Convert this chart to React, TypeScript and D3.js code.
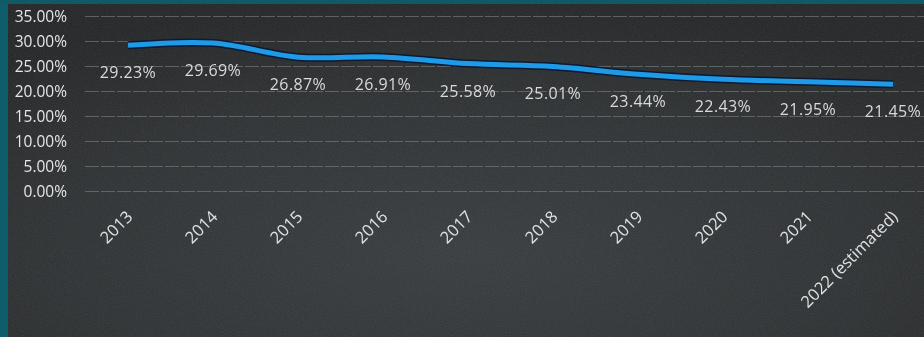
import React from "react";
import * as d3 from "d3";

const categories = ["2013", "2014", "2015", "2016", "2017", "2018", "2019", "2020", "2021", "2022 (estimated)"];
const values = [29.23, 29.69, 26.87, 26.91, 25.58, 25.01, 23.44, 22.43, 21.95, 21.45];
const yTicks = [0, 5, 10, 15, 20, 25, 30, 35];

const W = 924;
const H = 337;

export default function App() {
  const x = d3.scalePoint<string>().domain(categories).range([128, 893]);
  const y = d3.scaleLinear().domain([0, 35]).range([191.5, 16.5]);
  const line = d3
    .line<number>()
    .x((_, i) => x(categories[i]) as number)
    .y((d) => y(d))
    .curve(d3.curveCatmullRom.alpha(0.5));
  const path = line(values) || "";
  const fmt = (v: number) => `${v.toFixed(2)}%`;

  return (
    <svg
      width={W}
      height={H}
      style={{ position: "fixed", top: 0, left: 0, display: "block" }}
      fontFamily="'Open Sans', 'DejaVu Sans', sans-serif"
    >
      <defs>
        <radialGradient id="bg" cx="0.5" cy="0.75" r="0.75">
          <stop offset="0" stopColor="#373b3e" />
          <stop offset="0.6" stopColor="#2d3032" />
          <stop offset="1" stopColor="#222425" />
        </radialGradient>
        <filter id="noise" x="0" y="0" width="100%" height="100%">
          <feTurbulence type="fractalNoise" baseFrequency="0.9" numOctaves="2" seed="3" />
          <feColorMatrix type="saturate" values="0" />
          <feComponentTransfer>
            <feFuncA type="linear" slope="0.12" />
          </feComponentTransfer>
        </filter>
      </defs>
      <rect x={0} y={0} width={W} height={H} fill="url(#bg)" />
      <rect x={0} y={0} width={W} height={H} filter="url(#noise)" />
      {/* teal frame edges */}
      <rect x={0} y={0} width={8} height={H} fill="#0e5d6a" />
      <rect x={0} y={0} width={W} height={4} fill="#0f5a64" />

      {/* gridlines */}
      {yTicks.map((t) => (
        <line
          key={`g${t}`}
          x1={85}
          x2={W}
          y1={y(t)}
          y2={y(t)}
          stroke="#7a7c7e"
          strokeOpacity={0.65}
          strokeWidth={1}
          strokeDasharray="14 2"
        />
      ))}

      {/* y axis labels */}
      {yTicks.map((t) => (
        <text
          key={`y${t}`}
          x={67}
          y={y(t)}
          dy="0.36em"
          textAnchor="end"
          fontSize={15.5}
          fill="#e4e6e8"
        >
          {fmt(t)}
        </text>
      ))}

      {/* line */}
      <path d={path} fill="none" stroke="#0b1a33" strokeWidth={8} strokeLinecap="butt" strokeLinejoin="round" />
      <path d={path} fill="none" stroke="#1f9ae6" strokeWidth={5} strokeLinecap="butt" strokeLinejoin="round" />

      {/* data labels */}
      {values.map((v, i) => (
        <text
          key={`d${i}`}
          x={x(categories[i]) as number}
          y={y(v) + 33}
          textAnchor="middle"
          fontSize={16}
          letterSpacing={0.4}
          fill="#d8dadc"
        >
          {fmt(v)}
        </text>
      ))}

      {/* x tick labels */}
      {categories.map((c) => (
        <text
          key={`x${c}`}
          transform={`translate(${(x(c) as number) - 3},${209}) rotate(-45)`}
          textAnchor="end"
          dy="0.75em"
          fontSize={16.5}
          fill="#dfe1e3"
        >
          {c}
        </text>
      ))}
    </svg>
  );
}
